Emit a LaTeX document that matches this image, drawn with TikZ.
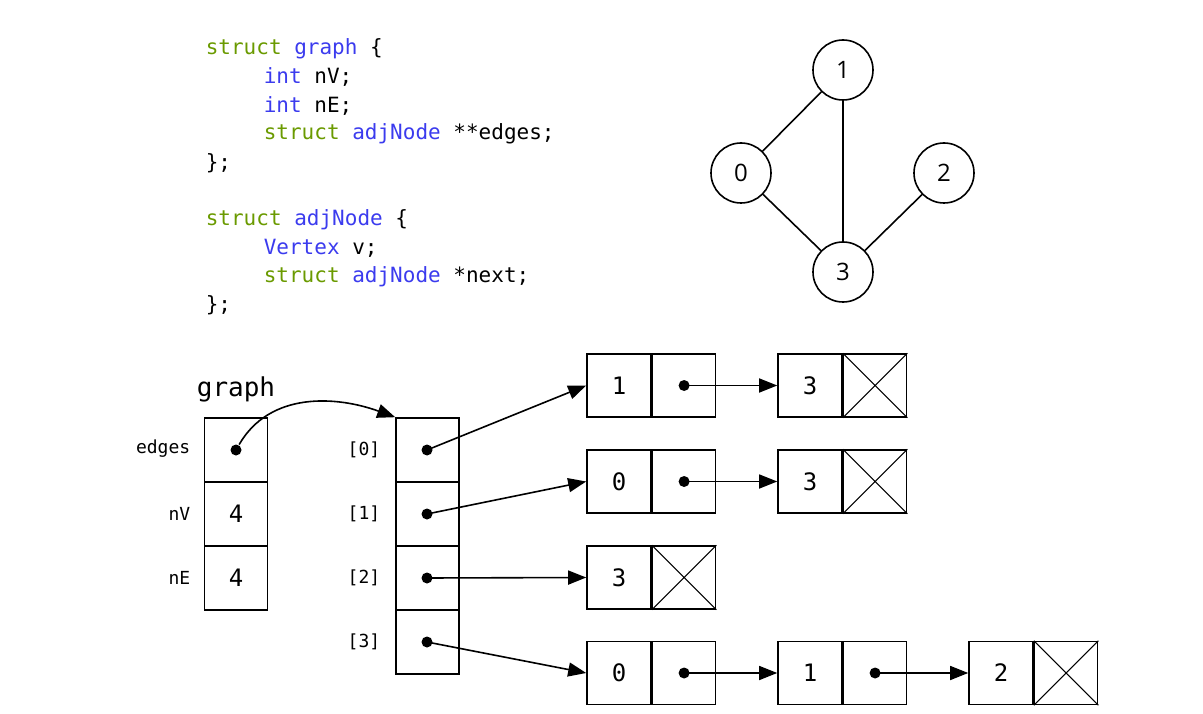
\documentclass[tikz,border=0pt]{standalone}
\usepackage{fontspec}
\setmainfont{Open Sans}
\setmonofont{DejaVu Sans Mono}
\usetikzlibrary{arrows.meta}
\definecolor{kw}{HTML}{6A9A00}
\definecolor{ty}{HTML}{3B3BEE}
\begin{document}
\begin{tikzpicture}[x=1pt,y=-1pt,line width=1.6pt,
 code/.style={anchor=west,inner sep=0,font=\ttfamily\fontsize{21}{21}\selectfont},
 vtx/.style={circle,draw,minimum size=60pt,inner sep=0,font=\fontsize{24}{24}\selectfont},
 cell/.style={draw,minimum width=64pt,minimum height=64pt,inner sep=0,font=\ttfamily\fontsize{24}{24}\selectfont},
 lab/.style={anchor=east,inner sep=0,font=\ttfamily\fontsize{18}{18}\selectfont},
 arr/.style={-{Triangle[length=18pt,width=14pt]}},
 dot/.style={circle,fill,inner sep=0,minimum size=11pt}]
\useasboundingbox (0,0) rectangle (1203,714);
% code
\node[code] (c1) at (205,49) {\textcolor{kw}{struct} \textcolor{ty}{graph} \{};
\node[code] (c2) at (263,77) {\textcolor{ty}{int} nV;};
\node[code] (c3) at (263,106) {\textcolor{ty}{int} nE;};
\node[code] (c4) at (263,134) {\textcolor{kw}{struct} \textcolor{ty}{adjNode} **edges;};
\node[code] (c5) at (205,163) {\};};
\node[code] (c6) at (205,220) {\textcolor{kw}{struct} \textcolor{ty}{adjNode} \{};
\node[code] (c7) at (263,248) {\textcolor{ty}{Vertex} v;};
\node[code] (c8) at (263,277) {\textcolor{kw}{struct} \textcolor{ty}{adjNode} *next;};
\node[code] (c9) at (205,305) {\};};
% graph
\node[vtx] (v1) at (843,70) {1};
\node[vtx] (v0) at (741,173) {0};
\node[vtx] (v2) at (944,173) {2};
\node[vtx] (v3) at (843,272) {3};
\draw (v0)--(v1) (v1)--(v3) (v0)--(v3) (v2)--(v3);
% struct graph
\node[inner sep=0,font=\ttfamily\fontsize{26}{26}\selectfont] (gl) at (236,389) {graph};
\node[cell,minimum width=63pt] (ge) at (236,450) {};
\node[cell,minimum width=63pt] (gv) at (236,514) {4};
\node[cell,minimum width=63pt] (gn) at (236,578) {4};
\node[lab] (le) at (191,449) {edges};
\node[lab] (lv) at (191,514) {nV};
\node[lab] (ln) at (191,578) {nE};
% array
\foreach \i/\y in {0/450,1/514,2/578,3/642}{
  \node[cell,minimum width=63pt] (a\i) at (427.5,\y) {};
  \node[lab] (al\i) at (381,\y) {[\i]};
  \node[dot] (ad\i) at (427,\y) {};
}
\node[dot] (gd) at (236,450) {};
\draw[arr] (gd) to[out=60,in=160] (a0.north west);
% list nodes
\newcommand\lnode[4]{% name, x, y, value
  \node[cell,minimum width=64pt,minimum height=63pt] (#1v) at (#2,#3) {#4};
  \node[cell,minimum width=63pt,minimum height=63pt,anchor=west] (#1p) at (#1v.east) {};}
\lnode{n11}{619}{385.5}{1}
\lnode{n12}{810}{385.5}{3}
\lnode{n21}{619}{481.5}{0}
\lnode{n22}{810}{481.5}{3}
\lnode{n31}{619}{577.5}{3}
\lnode{n41}{619}{673}{0}
\lnode{n42}{810}{673}{1}
\lnode{n43}{1001}{673}{2}
\foreach \n in {n12,n22,n31,n43}{
  \draw[line width=1.2pt] (\n p.north west)--(\n p.south east) (\n p.south west)--(\n p.north east);}
\foreach \n in {n11,n21,n41,n42}{\node[dot] (\n d) at (\n p.center) {};}
\draw[arr] (n11d.center)--(n12v.west);
\draw[arr] (n21d.center)--(n22v.west);
\draw[arr] (n41d.center)--(n42v.west);
\draw[arr] (n42d.center)--(n43v.west);
\draw[arr] (ad0.center)--(n11v.west);
\draw[arr] (ad1.center)--(n21v.west);
\draw[arr] (ad2.center)--(n31v.west);
\draw[arr] (ad3.center)--(n41v.west);
\end{tikzpicture}
\end{document}
